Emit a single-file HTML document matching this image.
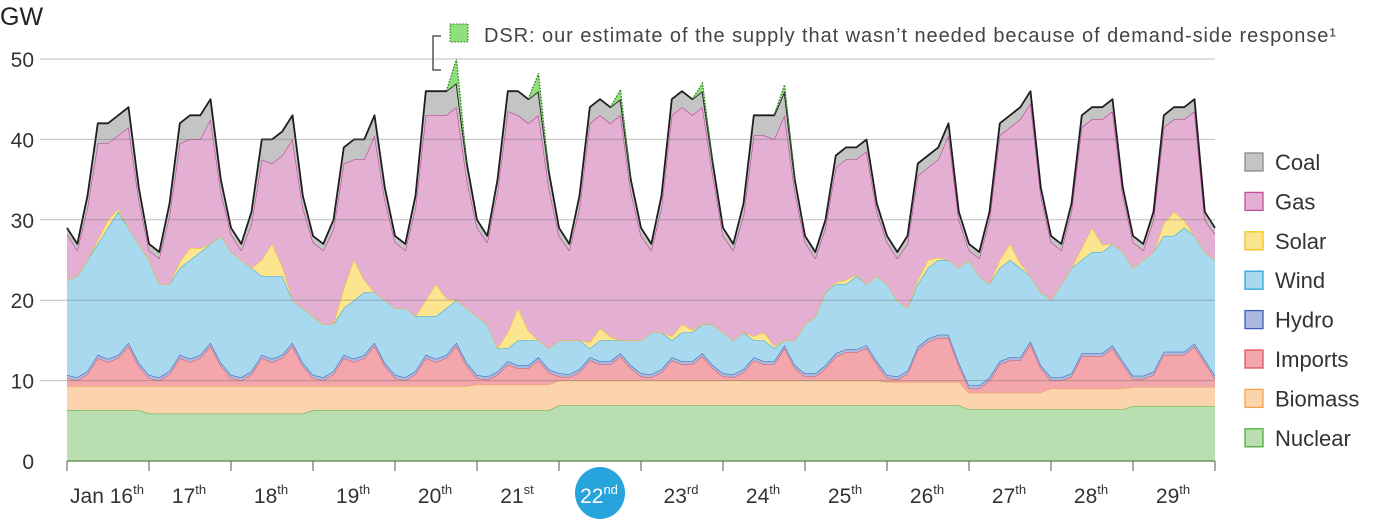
<!DOCTYPE html>
<html><head><meta charset="utf-8"><style>
html,body{margin:0;padding:0;background:#fff;}
svg{display:block;font-family:"Liberation Sans",sans-serif;}
</style></head><body>
<svg id="chart" width="1377" height="521" viewBox="0 0 1377 521" xmlns="http://www.w3.org/2000/svg">
<text x="0" y="25" font-size="25" fill="#222">GW</text>
<g id="areas"></g>
<g id="grid"></g>
<g id="yticks"></g>
<g id="xaxis"></g>
<g id="legend"></g>
<g>
<path d="M441,70 L433,70 L433,36 L441,36" fill="none" stroke="#555" stroke-width="1.5"/>
<rect x="450" y="24" width="18" height="18" fill="#8de07a" stroke="#2a6a20" stroke-width="1" stroke-dasharray="1.5,1.5"/>
<text x="484" y="42" font-size="20" textLength="852" lengthAdjust="spacing" fill="#444">DSR: our estimate of the supply that wasn’t needed because of demand-side response¹</text>
</g>
</svg>
<script>
const days=["Jan 16","17","18","19","20","21","22","23","24","25","26","27","28","29"];
const sups=["th","th","th","th","th","st","nd","rd","th","th","th","th","th","th"];
const yTicks=[0,10,20,30,40,50];
const nuclear=[6.3,6.3,6.3,6.3,6.3,6.3,6.3,6.3, 5.9,5.9,5.9,5.9,5.9,5.9,5.9,5.9, 5.9,5.9,5.9,5.9,5.9,5.9,5.9,5.9, 6.3,6.3,6.3,6.3,6.3,6.3,6.3,6.3, 6.3,6.3,6.3,6.3,6.3,6.3,6.3,6.3, 6.3,6.3,6.3,6.3,6.3,6.3,6.3,6.3, 6.9,6.9,6.9,6.9,6.9,6.9,6.9,6.9, 6.9,6.9,6.9,6.9,6.9,6.9,6.9,6.9, 6.9,6.9,6.9,6.9,6.9,6.9,6.9,6.9, 6.9,6.9,6.9,6.9,6.9,6.9,6.9,6.9, 6.9,6.9,6.9,6.9,6.9,6.9,6.9,6.9, 6.4,6.4,6.4,6.4,6.4,6.4,6.4,6.4, 6.4,6.4,6.4,6.4,6.4,6.4,6.4,6.4, 6.8,6.8,6.8,6.8,6.8,6.8,6.8,6.8, 6.8];
const biomass=[3,3,3,3,3,3,3,3, 3.4,3.4,3.4,3.4,3.4,3.4,3.4,3.4, 3.4,3.4,3.4,3.4,3.4,3.4,3.4,3.4, 3,3,3,3,3,3,3,3, 3,3,3,3,3,3,3,3, 3.2,3.2,3.2,3.2,3.2,3.2,3.2,3.2, 3.1,3.1,3.1,3.1,3.1,3.1,3.1,3.1, 3.1,3.1,3.1,3.1,3.1,3.1,3.1,3.1, 3.1,3.1,3.1,3.1,3.1,3.1,3.1,3.1, 3.1,3.1,3.1,3.1,3.1,3.1,3.1,3.1, 2.9,2.9,2.9,2.9,2.9,2.9,2.9,2.9, 2.1,2.1,2.1,2.1,2.1,2.1,2.1,2.1, 2.6,2.6,2.6,2.6,2.6,2.6,2.6,2.6, 2.4,2.4,2.4,2.4,2.4,2.4,2.4,2.4, 2.4];
const imports=[1,0.7,1.5,3.5,3,3.5,5,2.5, 1,0.7,1.5,3.5,3,3.5,5,2.5, 1,0.7,1.5,3.5,3,3.5,5,2.5, 1,0.7,1.5,3.5,3,3.5,5,2.5, 1,0.7,1.5,3.5,3,3.5,5,2.5, 0.8,0.6,1.2,2.5,2,2,3,1.5, 0.5,0.4,1,2.5,2,2,3,1.5, 0.5,0.4,1,2.5,2,2,3,1.5, 0.5,0.4,1,2.5,2,2,4,1.5, 0.5,0.5,1.5,3,3.5,3.5,4,2, 0.5,0.3,1,4,5,5.5,5.5,2, 0.5,0.5,1.5,3.5,4,4,6,3, 1,1,1.5,4,4,4,5,3, 1,1,1.5,4,4,4,5,3, 1];
const hydro=[0.4,0.4,0.4,0.4,0.4,0.4,0.4,0.4, 0.4,0.4,0.4,0.4,0.4,0.4,0.4,0.4, 0.4,0.4,0.4,0.4,0.4,0.4,0.4,0.4, 0.4,0.4,0.4,0.4,0.4,0.4,0.4,0.4, 0.4,0.4,0.4,0.4,0.4,0.4,0.4,0.4, 0.4,0.4,0.4,0.4,0.4,0.4,0.4,0.4, 0.4,0.4,0.4,0.4,0.4,0.4,0.4,0.4, 0.4,0.4,0.4,0.4,0.4,0.4,0.4,0.4, 0.4,0.4,0.4,0.4,0.4,0.4,0.4,0.4, 0.4,0.4,0.4,0.4,0.4,0.4,0.4,0.4, 0.4,0.4,0.4,0.4,0.4,0.4,0.4,0.4, 0.4,0.4,0.4,0.4,0.4,0.4,0.4,0.4, 0.4,0.4,0.4,0.4,0.4,0.4,0.4,0.4, 0.4,0.4,0.4,0.4,0.4,0.4,0.4,0.4, 0.4];
const wind=[11.8,12.6,13.8,13.8,16.3,17.8,14.3,14.8, 14.3,11.6,10.8,10.8,12.3,12.8,12.3,15.8, 15.3,14.6,12.8,9.8,10.3,9.8,5.3,6.8, 7.3,6.6,5.8,5.8,7.3,7.8,6.3,7.8, 8.3,8.6,6.8,4.8,5.3,5.8,5.3,6.8, 7.3,6.5,2.9,1.6,3.1,3.1,2.1,2.6, 4.1,4.2,3.6,1.1,2.6,2.6,1.6,3.1, 4.1,5.2,4.6,2.1,3.6,3.6,3.6,5.1, 5.1,4.2,4.6,2.1,2.6,1.6,0.6,3.1, 6.1,7.1,9.1,8.6,8.1,9.1,7.6,10.6, 11.3,9.5,7.8,7.8,8.8,9.3,9.3,11.8, 15.6,13.6,11.6,11.6,12.1,11.1,8.1,9.1, 9.6,11.6,13.1,11.6,12.6,12.6,12.6,13.6, 13.4,14.4,14.9,14.4,14.4,15.4,13.4,13.4, 14.4];
const solar=[0,0,0,0.5,1,0.3,0,0, 0,0,0,0.75,1.5,0.45,0,0, 0,0,0,2,4,1.2,0,0, 0,0,0,2.5,5,1.5,0,0, 0,0,0,2,4,1.2,0,0, 0,0,0,2,4,1.2,0,0, 0,0,0,0.75,1.5,0.45,0,0, 0,0,0,0.5,1,0.3,0,0, 0,0,0,0.5,1,0.3,0,0, 0,0,0,0.25,0.5,0.15,0,0, 0,0,0,0.5,1,0.3,0,0, 0,0,0,1,2,0.6,0,0, 0,0,0,1.5,3,0.9,0,0, 0,0,0,1.5,3,0.9,0,0, 0];
const gas=[5.7,3.2,6.5,12,9.5,9.2,12.5,5.5, 1.2,3.2,8.5,14.75,13.5,13.55,15.5,5.5, 2.2,1.2,5.5,12.5,10,13.8,20,12.5, 9.2,9.2,11.8,15.5,12.5,15,19.5,12.5, 8.2,7.2,13.5,23,21,22.8,24,16, 11,10.2,19.5,27.5,24,25.8,28,20, 13,11.2,16.5,27.25,26.5,26.55,28,18.5, 13,10.2,15.5,27.5,27,26.7,27,18.5, 12,11.2,14.5,25,24.5,25.7,28,18.5, 10.2,7.2,8,14.25,15,14.35,16.5,8, 5.2,5.2,8,13,11.5,12.2,15.5,6, 1.2,2.2,8,15.5,14.5,17.9,21.5,12, 7.2,4.2,7,15,13.5,15.6,16.5,7, 3.2,1.2,4,12,11.5,12.6,15.5,4, 3.2];
const coal=[0.8,0.8,1.5,2.5,2.5,2.5,2.5,1.5, 0.8,0.8,1.5,2.5,3,3,2.5,1.5, 0.8,0.8,1.5,2.5,3,3,3,1.5, 0.8,0.8,1.2,2,2.5,2.5,2.5,1.5, 0.8,0.8,1.5,3,3,3,3,2, 1,0.8,1.5,2.5,3,3,3,2, 1,0.8,1.5,2,2,2,2,1.5, 1,0.8,1.5,2,2,2,2,1.5, 1,0.8,1.5,2.5,2.5,3,3,1.5, 0.8,0.8,1,1.5,1.5,1.5,1.5,1, 0.8,0.8,1,1.5,1.5,1.5,1.5,1, 0.8,0.8,1,1.5,1.5,1.5,1.5,1, 0.8,0.8,1,1.5,1.5,1.5,1.5,1, 0.8,0.8,1,1.5,1.5,1.5,1.5,1, 0.8];
const dsr=[0,0,0,0,0,0,0,0, 0,0,0,0,0,0,0,0, 0,0,0,0,0,0,0,0, 0,0,0,0,0,0,0,0, 0,0,0,0,0,0,3,0, 0,0,0,0,0,0,2.2,0, 0,0,0,0,0,0,1.2,0, 0,0,0,0,0,0,1,0, 0,0,0,0,0,0,0.8,0, 0,0,0,0,0,0,0,0, 0,0,0,0,0,0,0,0, 0,0,0,0,0,0,0,0, 0,0,0,0,0,0,0,0, 0,0,0,0,0,0,0,0, 0];

const NS="http://www.w3.org/2000/svg";
const X0=67,X1=1215,Y0=461,PX=8.04;
const N=nuclear.length;
function xs(i){return X0+i*(X1-X0)/(N-1);}
function ys(v){return Y0-v*PX;}
function mk(tag,attrs,parent){const e=document.createElementNS(NS,tag);for(const k in attrs)e.setAttribute(k,attrs[k]);parent.appendChild(e);return e;}

const layers=[
 {name:"nuclear",vals:nuclear,fill:"#b9dfb1",stroke:"#4cae3c"},
 {name:"biomass",vals:biomass,fill:"#fbd4ae",stroke:"#f3a44a"},
 {name:"imports",vals:imports,fill:"#f3a6ab",stroke:"#e0525c"},
 {name:"hydro",vals:hydro,fill:"#aab9dc",stroke:"#3a5dbb"},
 {name:"wind",vals:wind,fill:"#a8d9ef",stroke:"#2aa6dc"},
 {name:"solar",vals:solar,fill:"#fbe68f",stroke:"#efc21a"},
 {name:"gas",vals:gas,fill:"#e3b0d3",stroke:"#b4338a"},
 {name:"coal",vals:coal,fill:"#c4c4c4",stroke:"#1e1e1e"},
 {name:"dsr",vals:dsr,fill:"#8de07a",stroke:"#2a6a20"}
];
const areas=document.getElementById('areas');
let base=new Array(N).fill(0);
layers.forEach(L=>{
  const top=base.map((b,i)=>b+L.vals[i]);
  let d="M"+xs(0)+","+ys(top[0]);
  for(let i=1;i<N;i++)d+=" L"+xs(i).toFixed(1)+","+ys(top[i]).toFixed(1);
  for(let i=N-1;i>=0;i--)d+=" L"+xs(i).toFixed(1)+","+ys(base[i]).toFixed(1);
  d+=" Z";
  const p=mk('path',{d:d,fill:L.fill,stroke:"none"},areas);
  
  
  if(L.name==="dsr"){
    for(let i=0;i<N;i++){
      if(L.vals[i]>0){
        const a=i-1,b=i+1;
        const l=mk('path',{d:"M"+xs(a)+","+ys(top[a])+" L"+xs(i)+","+ys(top[i])+" L"+xs(b)+","+ys(top[b]),fill:"none",stroke:L.stroke,"stroke-width":1.2,"stroke-dasharray":"1.5,1.5"},areas);
        
        
      }
    }
  } else {
    let ld="M"+xs(0)+","+ys(top[0]);
    for(let i=1;i<N;i++)ld+=" L"+xs(i).toFixed(1)+","+ys(top[i]).toFixed(1);
    const l=mk('path',{d:ld,fill:"none",stroke:L.stroke,"stroke-width":L.name==="coal"?1.8:1,"stroke-linejoin":"round"},areas);
    
    
  }
  base=top;
});

const grid=document.getElementById('grid'),yt=document.getElementById('yticks');
yTicks.forEach(v=>{
  if(v>0){
    const g=mk('line',{x1:40,x2:X1,y1:ys(v),y2:ys(v),stroke:"rgba(110,110,110,0.45)","stroke-width":1},grid);
    
    
  }
  const t=mk('text',{x:34,y:ys(v)+8,"text-anchor":"end","font-size":21,fill:"#333"},yt);
  t.textContent=v;
  
  
});

const xa=document.getElementById('xaxis');
const ax=mk('line',{x1:X0,x2:X1,y1:Y0,y2:Y0,stroke:"#6a9a55","stroke-width":1.5},xa);


const dw=(X1-X0)/days.length;
for(let k=0;k<=days.length;k++){
  const t=mk('line',{x1:X0+k*dw,x2:X0+k*dw,y1:Y0,y2:Y0+10,stroke:"#555","stroke-width":1},xa);
  
  
}
days.forEach((d,k)=>{
  const cx=X0+(k+0.5)*dw;
  const hl=(k===6);
  if(hl){
    const c=mk('ellipse',{cx:cx,cy:493,rx:25,ry:26,fill:"#27a4dc"},xa);
    
    
  }
  const t=mk('text',{x:cx-1,y:503,"text-anchor":"middle","font-size":21,fill:hl?"#fff":"#333"},xa);
  
  
  t.appendChild(document.createTextNode(d));
  const s=document.createElementNS(NS,'tspan');
  s.setAttribute('dy','-9');s.setAttribute('font-size','13');
  s.textContent=sups[k];
  t.appendChild(s);
});

const legendItems=[["Coal","#c4c4c4","#8a8a8a"],["Gas","#e3b0d3","#c0509a"],["Solar","#fbe68f","#efc21a"],["Wind","#a8d9ef","#2aa6dc"],["Hydro","#aab9dc","#3a5dbb"],["Imports","#f3a6ab","#e0525c"],["Biomass","#fbd4ae","#f3a44a"],["Nuclear","#b9dfb1","#4cae3c"]];
const lg=document.getElementById('legend');
legendItems.forEach((it,k)=>{
  const cy=162+k*39.4;
  const g=mk('g',{},lg);
  
  
  mk('rect',{x:1245,y:cy-9,width:18,height:18,fill:it[1],stroke:it[2],"stroke-width":1.3},g);
  const t=mk('text',{x:1275,y:cy+8,"font-size":22,fill:"#333"},g);
  t.textContent=it[0];
});
</script>
</body></html>
